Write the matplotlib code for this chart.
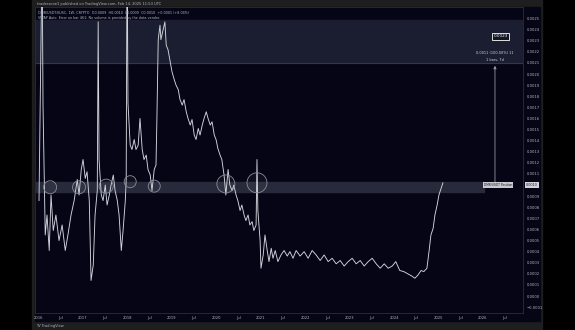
import matplotlib
matplotlib.use("Agg")
import matplotlib.pyplot as plt
from matplotlib.patches import Rectangle

# Données (hebdo, DMR/USDT)
dates = [
    2016.02, 2016.09, 2016.11, 2016.13, 2016.16, 2016.20, 2016.25, 2016.29, 2016.34, 2016.40,
    2016.47, 2016.54, 2016.61, 2016.67, 2016.74, 2016.81, 2016.88, 2016.92, 2016.97, 2017.01,
    2017.06, 2017.10, 2017.15, 2017.19, 2017.24, 2017.28, 2017.33, 2017.35, 2017.37, 2017.42,
    2017.46, 2017.51, 2017.55, 2017.60, 2017.64, 2017.69, 2017.73, 2017.78, 2017.82, 2017.87,
    2017.91, 2017.96, 2017.98, 2018.00, 2018.02, 2018.07, 2018.11, 2018.16, 2018.20, 2018.25,
    2018.29, 2018.34, 2018.38, 2018.43, 2018.47, 2018.52, 2018.56, 2018.61, 2018.65, 2018.67,
    2018.70, 2018.74, 2018.76, 2018.81, 2018.85, 2018.88, 2018.92, 2018.97, 2019.01, 2019.06,
    2019.10, 2019.15, 2019.19, 2019.24, 2019.28, 2019.33, 2019.37, 2019.42, 2019.46, 2019.51,
    2019.55, 2019.60, 2019.64, 2019.69, 2019.73, 2019.78, 2019.82, 2019.87, 2019.91, 2019.96,
    2020.00, 2020.04, 2020.09, 2020.13, 2020.18, 2020.22, 2020.27, 2020.31, 2020.36, 2020.40,
    2020.45, 2020.49, 2020.54, 2020.58, 2020.63, 2020.67, 2020.72, 2020.76, 2020.81, 2020.85,
    2020.90, 2020.92, 2020.94, 2020.99, 2021.01, 2021.06, 2021.10, 2021.15, 2021.19, 2021.24,
    2021.28, 2021.33, 2021.39, 2021.46, 2021.53, 2021.60, 2021.66, 2021.73, 2021.80, 2021.89,
    2021.98, 2022.07, 2022.16, 2022.25, 2022.34, 2022.43, 2022.52, 2022.61, 2022.70, 2022.79,
    2022.88, 2022.97, 2023.06, 2023.15, 2023.24, 2023.33, 2023.42, 2023.51, 2023.60, 2023.69,
    2023.78, 2023.87, 2023.96, 2024.04, 2024.13, 2024.22, 2024.31, 2024.40, 2024.47, 2024.54,
    2024.61, 2024.67, 2024.74, 2024.79, 2024.83, 2024.88, 2024.92, 2024.97, 2025.01, 2025.06,
    2025.10,
]
prix = [
    0.00086, 0.00312, 0.00172, 0.00127, 0.00055, 0.00073, 0.00041, 0.00091, 0.00059, 0.00073,
    0.00050, 0.00064, 0.00041, 0.00055, 0.00073, 0.00086, 0.00105, 0.00091, 0.00114, 0.00123,
    0.00106, 0.00112, 0.00086, 0.00014, 0.00028, 0.00073, 0.00095, 0.00247, 0.00123, 0.00091,
    0.00086, 0.00100, 0.00082, 0.00091, 0.00100, 0.00109, 0.00095, 0.00086, 0.00073, 0.00041,
    0.00059, 0.00086, 0.00105, 0.00321, 0.00174, 0.00136, 0.00132, 0.00141, 0.00132, 0.00136,
    0.00160, 0.00132, 0.00123, 0.00127, 0.00114, 0.00109, 0.00095, 0.00114, 0.00118, 0.00159,
    0.00231, 0.00244, 0.00231, 0.00240, 0.00247, 0.00226, 0.00222, 0.00211, 0.00202, 0.00195,
    0.00190, 0.00186, 0.00177, 0.00172, 0.00177, 0.00166, 0.00160, 0.00154, 0.00159, 0.00145,
    0.00141, 0.00151, 0.00145, 0.00154, 0.00160, 0.00166, 0.00160, 0.00154, 0.00157, 0.00145,
    0.00141, 0.00133, 0.00127, 0.00123, 0.00109, 0.00091, 0.00114, 0.00100, 0.00095, 0.00100,
    0.00091, 0.00086, 0.00077, 0.00082, 0.00073, 0.00068, 0.00073, 0.00064, 0.00067, 0.00059,
    0.00064, 0.00123, 0.00077, 0.00050, 0.00025, 0.00037, 0.00055, 0.00041, 0.00031, 0.00043,
    0.00034, 0.00041, 0.00031, 0.00037, 0.00041, 0.00036, 0.00040, 0.00034, 0.00041, 0.00036,
    0.00040, 0.00034, 0.00041, 0.00037, 0.00032, 0.00037, 0.00031, 0.00034, 0.00029, 0.00032,
    0.00027, 0.00031, 0.00034, 0.00029, 0.00032, 0.00027, 0.00031, 0.00034, 0.00029, 0.00025,
    0.00029, 0.00025, 0.00027, 0.00031, 0.00023, 0.00022, 0.00020, 0.00018, 0.00016, 0.00019,
    0.00023, 0.00022, 0.00025, 0.00041, 0.00055, 0.00061, 0.00073, 0.00082, 0.00091, 0.00097,
    0.00102,
]

# Cercles (retests du support)
cercles_x = [2016.27, 2016.92, 2017.53, 2018.07, 2018.61, 2020.22, 2020.92]
cercles_y = [0.00098, 0.00098, 0.00099, 0.00103, 0.00099, 0.00101, 0.00102]
cercles_taille = [88, 88, 102, 75, 75, 168, 207]

# Zones et objectif
zone_support = (0.00094, 0.00103)
zone_objectif = (0.00210, 0.00249)
fleche_x = 2026.27
fleche_de, fleche_a = 0.00100, 0.00210
objectif = 0.0023
prix_actuel = 0.0010

annees = list(range(2016, 2027))
prix_ticks = [i / 10000 for i in range(-1, 26)]

bg_navy = '#050516'
gris = '#b2b5be'

fig = plt.figure(figsize=(5.75, 3.3), dpi=100, facecolor='black')

# fond (cadre type capture TradingView)
fond = fig.add_axes([0, 0, 1, 1])
fond.set_xlim(0, 575)
fond.set_ylim(330, 0)
fond.axis('off')
fond.add_patch(Rectangle((32, 0), 510, 330, color='#1e1e1e'))
fond.add_patch(Rectangle((35, 7), 505, 314, color=bg_navy))
fond.text(37, 3.6, "traderzone1 published on TradingView.com, Feb 14, 2025 11:53 UTC",
          color=gris, fontsize=2.6, va='center')
fond.text(36, 325.5, "TV TradingView", color=gris, fontsize=2.6, va='center')

ax = fig.add_axes([35/575, 1-313/330, (523-35)/575, (313-7)/330])
ax.set_facecolor(bg_navy)
ax.set_xlim(2015.93, 2026.9)
ax.set_ylim(-0.000153, 0.002604)

# zone objectif + zone support
ax.axhspan(*zone_objectif, color='#1b1e30', zorder=0)
ax.axhline(zone_objectif[0], color='#3a3d50', lw=0.6, zorder=1)
ax.axhspan(*zone_support, xmax=0.92, color='#262a3b', zorder=1)

ax.plot(dates, prix, color='#d1d4dc', lw=0.65, zorder=3)

ax.scatter(cercles_x, cercles_y, s=cercles_taille, facecolors=(1, 1, 1, 0.04),
           edgecolors='#8a8d99', linewidths=0.6, zorder=4)

ax.annotate('', xy=(fleche_x, fleche_a), xytext=(fleche_x, fleche_de),
            arrowprops=dict(arrowstyle='-|>', color='#9598a1', lw=0.6,
                            mutation_scale=4), zorder=5)
ax.text(2026.40, 0.00234, f"{objectif:.4f}", color='white', fontsize=3, ha='center',
        va='center', zorder=6,
        bbox=dict(boxstyle='square,pad=0.3', fc='#131722', ec='white', lw=0.6))
ax.text(2026.26, 0.00219, "0.0011 (100.00%) 11", color='#d1d4dc', fontsize=2.5,
        ha='center', va='center')
ax.text(2026.26, 0.00213, "1 bars, 7d", color='#d1d4dc', fontsize=2.5,
        ha='center', va='center')

# légende en haut à gauche
ax.text(0.006, 0.988, "DMR/USDT:KUSC, 1W, CRYPTO  O0.0009  H0.0010  L0.0009  C0.0010  +0.0001 (+8.04%)",
        transform=ax.transAxes, color=gris, fontsize=2.4, va='top')
ax.text(0.006, 0.972, "VWAP Auto  Error on bar 461: No volume is provided by the data vendor.",
        transform=ax.transAxes, color=gris, fontsize=2.4, va='top')

# étiquettes à droite
ax.text(2026.34, prix_actuel, "DMR/USDT Position", color='#131722', fontsize=2.2,
        ha='center', va='center', zorder=6,
        bbox=dict(boxstyle='square,pad=0.2', fc='#c8cad0', ec='none'))
ax.text(1.006, prix_actuel, f"{prix_actuel:.4f}", transform=ax.get_yaxis_transform(),
        color='#131722', fontsize=2.4, ha='left', va='center', zorder=6, clip_on=False,
        bbox=dict(boxstyle='square,pad=0.25', fc='#d1d4dc', ec='none'))

ax.yaxis.tick_right()
ax.set_yticks(prix_ticks)
# le libellé 0.0010 est caché par l'étiquette du prix actuel
ax.set_yticklabels(["" if abs(p - prix_actuel) < 1e-9 else f"{p:.4f}".replace('-', '\u2212')
                    for p in prix_ticks])
xt, xl = [], []
for a in annees:
    xt += [a, a + 0.496]
    xl += [str(a), "Jul"]
ax.set_xticks(xt)
ax.set_xticklabels(xl)
ax.tick_params(axis='both', length=0, labelsize=2.7, colors=gris)
ax.tick_params(axis='y', pad=2.5)
ax.tick_params(axis='x', pad=2)
for s in ax.spines.values():
    s.set_color('#2a2e39')
    s.set_linewidth(0.6)

fig.savefig('out.png', dpi=100, facecolor='black')
